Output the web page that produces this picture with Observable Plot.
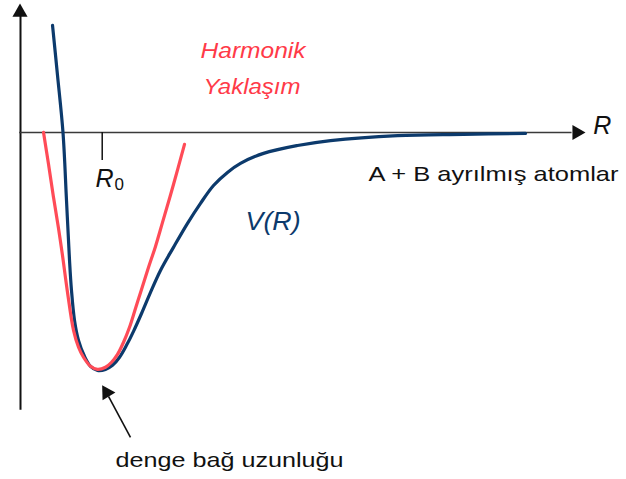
<!DOCTYPE html>
<html>
<head>
<meta charset="utf-8">
<script src="https://cdn.jsdelivr.net/npm/d3@7"></script>
<script src="https://cdn.jsdelivr.net/npm/@observablehq/plot@0.6"></script>
<style>
  body { margin: 0; background: #fff; }
  #chart svg { display: block; }
</style>
</head>
<body>
<div id="chart"></div>
<script>
// Potential energy V(R) of a diatomic molecule (Morse-like), in units of the well depth
const morseR = [0.392, 0.453, 0.520, 0.563, 0.600, 0.624, 0.661, 0.710, 0.783, 0.857, 0.942,
                1.040, 1.126, 1.212, 1.297, 1.383, 1.481, 1.591, 1.713, 1.872, 2.044, 2.203, 2.362,
                2.533, 2.692, 2.974, 3.390, 3.794, 4.614, 5.422, 6.180];
const morseV = [0.450, 0.240, 0.000, -0.286, -0.538, -0.664, -0.790, -0.874, -0.941, -0.983, -1.000,
                -0.996, -0.979, -0.945, -0.895, -0.836, -0.761, -0.672, -0.580, -0.483, -0.382, -0.298, -0.223,
                -0.168, -0.130, -0.088, -0.055, -0.034, -0.013, -0.008, -0.004];

// Harmonic approximation around the minimum
const harmR = [0.282, 0.343, 0.404, 0.465, 0.514, 0.572, 0.649, 0.710, 0.771, 0.857, 0.942,
               1.040, 1.114, 1.187, 1.261, 1.334, 1.408, 1.481, 1.567, 1.652, 1.738, 1.873, 2.007];
const harmV = [0.000, -0.134, -0.273, -0.403, -0.517, -0.664, -0.832, -0.903, -0.945, -0.983, -0.996,
               -0.987, -0.966, -0.933, -0.882, -0.819, -0.739, -0.660, -0.567, -0.479, -0.378, -0.218, -0.050];

// Equilibrium bond length marker
const r0Tick = [1];

const morse = morseR.map((r, i) => ({R: r, V: morseV[i]}));
const harm = harmR.map((r, i) => ({R: r, V: harmV[i]}));

const navy = "#0c3a6c";
const red = "#ff4b57";
const sans = "Liberation Sans, Arial, sans-serif";

const label = (s, x, y, opts) =>
  Plot.text([s], {text: d => d, x, y, textAnchor: "start", lineAnchor: "bottom", fontFamily: sans, ...opts});

const chart = Plot.plot({
  width: 626,
  height: 479,
  marginLeft: 20,
  marginRight: 34,
  marginTop: 13,
  marginBottom: 14,
  style: {background: "#fff", fontFamily: sans},
  x: {domain: [0, 7], axis: null},
  y: {domain: [-1.4, 0.5], axis: null},
  marks: [
    // axes with arrowheads
    Plot.ruleX([0], {y1: -1.168, y2: 0.49, stroke: "#111", strokeWidth: 2}),
    Plot.ruleY([0], {x1: -0.01, x2: 6.75, stroke: "#3a3a3a", strokeWidth: 1.5}),
    Plot.dot([0], {x: -0.006, y: 0.505, symbol: "triangle", r: 5.6, fill: "#111", stroke: null}),
    Plot.dot([0], {x: 6.808, y: 0, symbol: "triangle", r: 5.6, rotate: 90, fill: "#111", stroke: null}),
    Plot.ruleX(r0Tick, {x: d => d, y1: 0, y2: -0.118, stroke: "#111", strokeWidth: 1.5}),

    // curves
    Plot.line(morse, {x: "R", y: "V", curve: "catmull-rom", stroke: navy, strokeWidth: 3.2}),
    Plot.line(harm, {x: "R", y: "V", curve: "catmull-rom", stroke: red, strokeWidth: 3.2}),

    // arrow pointing at the minimum
    Plot.link([0], {x1: 1.346, y1: -1.282, x2: 1.077, y2: -1.109, stroke: "#111", strokeWidth: 1.6}),
    Plot.dot([0], {x: 1.055, y: -1.094, symbol: "triangle", r: 5.6, rotate: -31.5, fill: "#111", stroke: null}),

    // labels
    label("Harmonik", 2.203, 0.311, {fill: "#ff3a48", fontSize: 22, fontStyle: "italic"}),
    label("Yaklaşım", 2.240, 0.160, {fill: "#ff3a48", fontSize: 22, fontStyle: "italic"}),
    label("V(R)", 2.754, -0.408, {fill: navy, fontSize: 26, fontStyle: "italic"}),
    label("R", 7.009, -0.0055, {fill: "#111", fontSize: 25, fontStyle: "italic"}),
    label("R", 0.918, -0.231, {fill: "#111", fontSize: 25, fontStyle: "italic"}),
    label("0", 1.150, -0.242, {fill: "#111", fontSize: 17}),
    label("A + B ayrılmış atomlar", 4.259, -0.202, {fill: "#111", fontSize: 21}),
    label("denge bağ uzunluğu", 1.163, -1.408, {fill: "#111", fontSize: 21})
  ]
});

// widen the wider labels to their set lengths
const spans = new Map([
  ["Harmonik", 105], ["Yaklaşım", 97], ["V(R)", 55],
  ["A + B ayrılmış atomlar", 250], ["denge bağ uzunluğu", 228]
]);
d3.select(chart).selectAll("text").each(function () {
  const len = spans.get(this.textContent);
  if (len) {
    this.setAttribute("textLength", len);
    this.setAttribute("lengthAdjust", "spacingAndGlyphs");
  }
});

document.getElementById("chart").appendChild(chart);
</script>
</body>
</html>
